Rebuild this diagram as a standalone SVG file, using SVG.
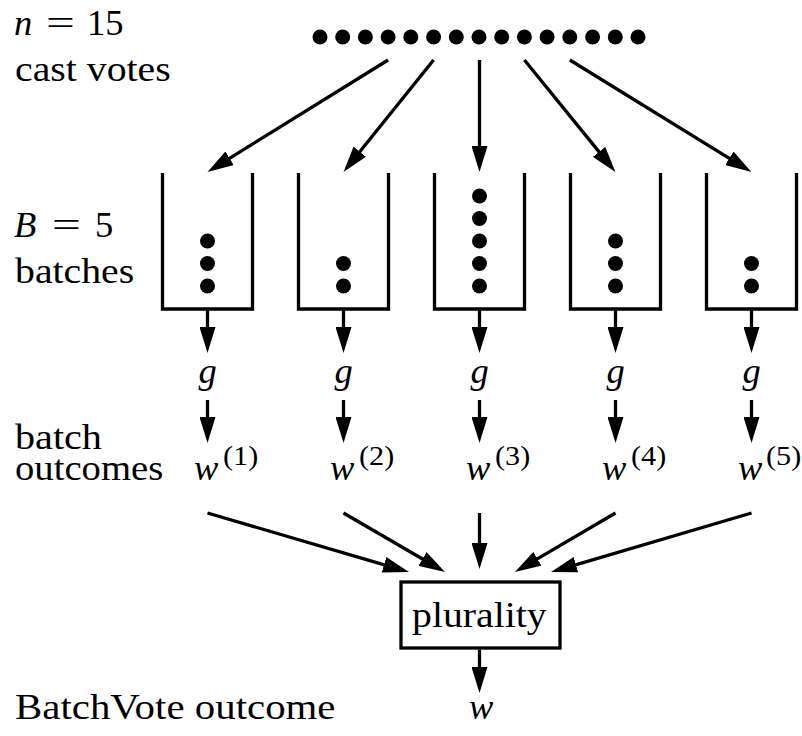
<svg xmlns="http://www.w3.org/2000/svg" width="802" height="736" viewBox="0 0 802 736">
  <defs>
    <style>
      .txt { fill: #000; font-size: 36.5px; }
      .it { font-style: italic; }
      .sup { fill: #000; font-size: 27px; }
      .bin { fill: none; stroke: #000; stroke-width: 3.3; stroke-linejoin: miter; }
      .edge { fill: none; stroke: #000; stroke-width: 3.3; marker-end: url(#head); }
      .box { fill: #fff; stroke: #000; stroke-width: 3.3; }
    </style>
    <marker id="head" markerUnits="userSpaceOnUse" markerWidth="26" markerHeight="16" viewBox="0 0 26 16" refX="11" refY="8" orient="auto">
      <path d="M0,0 L26,8 L0,16 Z" fill="#000"/>
    </marker>
    <circle id="dot" r="7.5" fill="#000"/>
  </defs>

  <rect width="802" height="736" fill="#fff"/>

  <!-- left-hand row labels (stretched slightly to the set widths) -->
  <g id="labels">
    <text class="txt it" font-family="Liberation Serif" x="14" y="35">n</text>
    <text class="txt" font-family="Liberation Serif" transform="translate(46,35) scale(1.4,1)">=</text>
    <text class="txt" font-family="Liberation Serif" x="87" y="35">15</text>
    <text class="txt" font-family="Liberation Serif" transform="translate(15,81) scale(1.09,1)">cast votes</text>

    <text class="txt it" font-family="Liberation Serif" x="14" y="237">B</text>
    <text class="txt" font-family="Liberation Serif" transform="translate(52,237) scale(1.4,1)">=</text>
    <text class="txt" font-family="Liberation Serif" x="95" y="237">5</text>
    <text class="txt" font-family="Liberation Serif" transform="translate(15,283) scale(1.09,1)">batches</text>

    <text class="txt" font-family="Liberation Serif" transform="translate(15,449) scale(1.1,1)">batch</text>
    <text class="txt" font-family="Liberation Serif" transform="translate(15,480) scale(1.06,1)">outcomes</text>

    <text class="txt" font-family="Liberation Serif" transform="translate(15,719) scale(1.12,1)">BatchVote outcome</text>
  </g>

  <!-- the 15 cast votes -->
  <g id="votes">
    <use href="#dot" x="320" y="37"/>
    <use href="#dot" x="342.7" y="37"/>
    <use href="#dot" x="365.4" y="37"/>
    <use href="#dot" x="388.1" y="37"/>
    <use href="#dot" x="410.8" y="37"/>
    <use href="#dot" x="433.6" y="37"/>
    <use href="#dot" x="456.3" y="37"/>
    <use href="#dot" x="479" y="37"/>
    <use href="#dot" x="501.7" y="37"/>
    <use href="#dot" x="524.4" y="37"/>
    <use href="#dot" x="547.1" y="37"/>
    <use href="#dot" x="569.8" y="37"/>
    <use href="#dot" x="592.6" y="37"/>
    <use href="#dot" x="615.3" y="37"/>
    <use href="#dot" x="638" y="37"/>
  </g>

  <!-- batches (open-topped bins) -->
  <g id="batch1">
    <path class="bin" d="M162.5,173 V309 H252.5 V173"/>
    <use href="#dot" x="207.5" y="241"/>
    <use href="#dot" x="207.5" y="263.5"/>
    <use href="#dot" x="207.5" y="286"/>
  </g>
  <g id="batch2">
    <path class="bin" d="M298.5,173 V309 H388.5 V173"/>
    <use href="#dot" x="343.5" y="263.5"/>
    <use href="#dot" x="343.5" y="286"/>
  </g>
  <g id="batch3">
    <path class="bin" d="M434.5,173 V309 H524.5 V173"/>
    <use href="#dot" x="479.5" y="196"/>
    <use href="#dot" x="479.5" y="218.5"/>
    <use href="#dot" x="479.5" y="241"/>
    <use href="#dot" x="479.5" y="263.5"/>
    <use href="#dot" x="479.5" y="286"/>
  </g>
  <g id="batch4">
    <path class="bin" d="M570.5,173 V309 H660.5 V173"/>
    <use href="#dot" x="615.5" y="241"/>
    <use href="#dot" x="615.5" y="263.5"/>
    <use href="#dot" x="615.5" y="286"/>
  </g>
  <g id="batch5">
    <path class="bin" d="M706.5,173 V309 H796.5 V173"/>
    <use href="#dot" x="751.5" y="263.5"/>
    <use href="#dot" x="751.5" y="286"/>
  </g>

  <!-- g applied to each batch -->
  <g id="g1"><text class="txt it" font-family="Liberation Serif" x="207.5" y="383" text-anchor="middle">g</text></g>
  <g id="g2"><text class="txt it" font-family="Liberation Serif" x="343.5" y="383" text-anchor="middle">g</text></g>
  <g id="g3"><text class="txt it" font-family="Liberation Serif" x="479.5" y="383" text-anchor="middle">g</text></g>
  <g id="g4"><text class="txt it" font-family="Liberation Serif" x="615.5" y="383" text-anchor="middle">g</text></g>
  <g id="g5"><text class="txt it" font-family="Liberation Serif" x="751.5" y="383" text-anchor="middle">g</text></g>

  <!-- batch outcomes w^(k) -->
  <g id="w1">
    <text class="txt it" font-family="Liberation Serif" x="194" y="480">w</text>
    <text class="sup" font-family="Liberation Serif" transform="translate(223,465) scale(1.12,1)">(1)</text>
  </g>
  <g id="w2">
    <text class="txt it" font-family="Liberation Serif" x="330" y="480">w</text>
    <text class="sup" font-family="Liberation Serif" transform="translate(359,465) scale(1.12,1)">(2)</text>
  </g>
  <g id="w3">
    <text class="txt it" font-family="Liberation Serif" x="466" y="480">w</text>
    <text class="sup" font-family="Liberation Serif" transform="translate(495,465) scale(1.12,1)">(3)</text>
  </g>
  <g id="w4">
    <text class="txt it" font-family="Liberation Serif" x="602" y="480">w</text>
    <text class="sup" font-family="Liberation Serif" transform="translate(631,465) scale(1.12,1)">(4)</text>
  </g>
  <g id="w5">
    <text class="txt it" font-family="Liberation Serif" x="738" y="480">w</text>
    <text class="sup" font-family="Liberation Serif" transform="translate(766,465) scale(1.12,1)">(5)</text>
  </g>

  <!-- plurality aggregator -->
  <g id="plurality">
    <rect class="box" x="401" y="582" width="159" height="66"/>
    <text class="txt" font-family="Liberation Serif" transform="translate(412,627) scale(1.09,1)">plurality</text>
  </g>

  <!-- final outcome -->
  <g id="w-final">
    <text class="txt it" font-family="Liberation Serif" x="469" y="719">w</text>
  </g>

  <!-- connectors -->
  <g id="connectors">
    <!-- votes to batches -->
    <line class="edge" x1="388.1" y1="60" x2="220.25" y2="164.09"/>
    <line class="edge" x1="433.6" y1="60" x2="352.9" y2="160.3"/>
    <line class="edge" x1="479.5" y1="60" x2="479.5" y2="157"/>
    <line class="edge" x1="524.4" y1="60" x2="606.0" y2="160.4"/>
    <line class="edge" x1="569.8" y1="60" x2="738.7" y2="164.1"/>

    <!-- batches to g -->
    <line class="edge" x1="207.5" y1="309" x2="207.5" y2="338"/>
    <line class="edge" x1="343.5" y1="309" x2="343.5" y2="338"/>
    <line class="edge" x1="479.5" y1="309" x2="479.5" y2="338"/>
    <line class="edge" x1="615.5" y1="309" x2="615.5" y2="338"/>
    <line class="edge" x1="751.5" y1="309" x2="751.5" y2="338"/>

    <!-- g to batch outcomes -->
    <line class="edge" x1="207.5" y1="400" x2="207.5" y2="428"/>
    <line class="edge" x1="343.5" y1="400" x2="343.5" y2="428"/>
    <line class="edge" x1="479.5" y1="400" x2="479.5" y2="428"/>
    <line class="edge" x1="615.5" y1="400" x2="615.5" y2="428"/>
    <line class="edge" x1="751.5" y1="400" x2="751.5" y2="428"/>

    <!-- batch outcomes to plurality -->
    <line class="edge" x1="207.5" y1="513" x2="394.6" y2="567.8"/>
    <line class="edge" x1="343.5" y1="513" x2="432.0" y2="564.5"/>
    <line class="edge" x1="479.5" y1="513" x2="479.5" y2="554"/>
    <line class="edge" x1="615.5" y1="513" x2="527.9" y2="564.4"/>
    <line class="edge" x1="751.5" y1="513" x2="565.4" y2="567.8"/>

    <!-- plurality to final outcome -->
    <line class="edge" x1="479.5" y1="649.6" x2="479.5" y2="678"/>
  </g>
</svg>
